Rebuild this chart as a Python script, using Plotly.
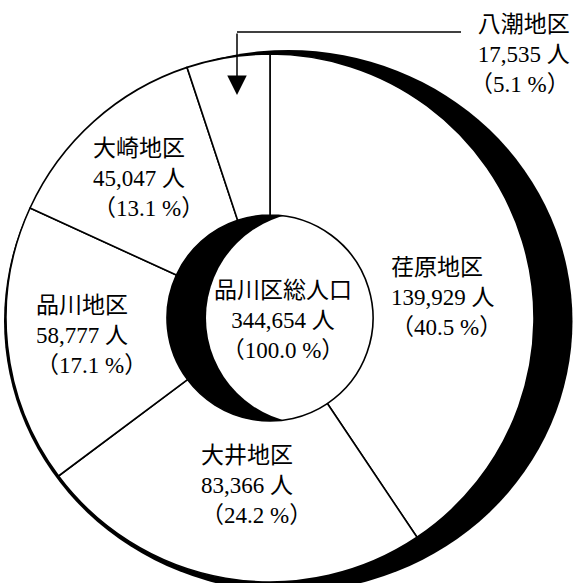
import plotly.graph_objects as go

# ---- data ----
districts = ["荏原地区", "大井地区", "品川地区", "大崎地区", "八潮地区"]
populations = [139929, 83366, 58777, 45047, 17535]
percents = [40.5, 24.2, 17.1, 13.1, 5.1]
total_label = "品川区総人口"
total_population = 344654
total_percent = 100.0

# ---- layout geometry (pixels) ----
W, H = 575, 583
CX, CY, R = 270, 318, 264          # pie centre / outer radius
R_IN = 103                          # hole radius

def px(x):
    return x / W

def py(y):
    return 1 - y / H

FONT = dict(family="Liberation Serif, Noto Sans CJK JP", size=23, color="black")

fig = go.Figure()
fig.add_trace(go.Pie(
    labels=districts,
    values=populations,
    sort=False,
    direction="clockwise",
    rotation=0,
    hole=R_IN / R,
    marker=dict(colors=["white"] * len(districts), line=dict(color="black", width=1.6)),
    textinfo="none",
    hoverinfo="skip",
    showlegend=False,
    domain=dict(x=[px(CX - R), px(CX + R)], y=[py(CY + R), py(CY - R)]),
))

shapes = [
    # outer black crescent (ellipse offset to the right/down, behind the pie)
    dict(type="circle", xref="paper", yref="paper", layer="below",
         x0=px(CX - R - 2), x1=px(CX + R + 38.5), y0=py(CY + R + 10), y1=py(CY - R - 4),
         fillcolor="black", line=dict(width=0)),
    # inner black disc visible through the hole
    dict(type="circle", xref="paper", yref="paper", layer="below",
         x0=px(CX - R_IN - 1), x1=px(CX + R_IN + 1), y0=py(CY + R_IN + 1), y1=py(CY - R_IN - 1),
         fillcolor="black", line=dict(width=0)),
    # white disc shifted right -> crescent on the left of the hole
    dict(type="circle", xref="paper", yref="paper", layer="below",
         x0=px(CX + 42 - 106), x1=px(CX + 42 + 106), y0=py(CY + 106), y1=py(CY - 106),
         fillcolor="white", line=dict(width=0)),
    # leader line for the small slice
    dict(type="line", xref="paper", yref="paper", layer="above",
         x0=px(237), x1=px(461), y0=py(32), y1=py(32),
         line=dict(color="black", width=1.5)),
]

# label blocks: (x, y, xanchor, align)
label_pos = [
    (389, 297, "left", "left"),
    (199, 485, "left", "left"),
    (34, 335, "left", "left"),
    (91, 178, "left", "left"),
    (572, 55, "right", "right"),
]

annotations = []
for name, pop, pct, (x, y, xa, al) in zip(districts, populations, percents, label_pos):
    annotations.append(dict(
        x=px(x), y=py(y), xref="paper", yref="paper", xanchor=xa, yanchor="middle",
        align=al, showarrow=False, font=FONT,
        text=f"{name}<br>{pop:,} 人<br>（{pct:.1f} %）",
    ))

annotations.append(dict(
    x=px(283), y=py(320), xref="paper", yref="paper", xanchor="center", yanchor="middle",
    align="center", showarrow=False, font=FONT,
    text=f"{total_label}<br>{total_population:,} 人<br>（{total_percent:.1f} %）",
))

# arrow pointing into the small slice
annotations.append(dict(
    x=px(237), y=py(95), xref="paper", yref="paper", text="",
    showarrow=True, ax=0, ay=-63, arrowhead=2, arrowsize=2.6, arrowwidth=1.5,
    arrowcolor="black", standoff=0, startstandoff=0,
))

fig.update_layout(
    width=W, height=H,
    margin=dict(l=0, r=0, t=0, b=0),
    paper_bgcolor="white", plot_bgcolor="white",
    shapes=shapes, annotations=annotations,
    showlegend=False,
)

fig.write_html(
    "out.html",
    config={"displayModeBar": False},
    post_script="document.body.style.margin='0';document.body.style.padding='0';"
                "document.body.style.overflow='hidden';",
)
